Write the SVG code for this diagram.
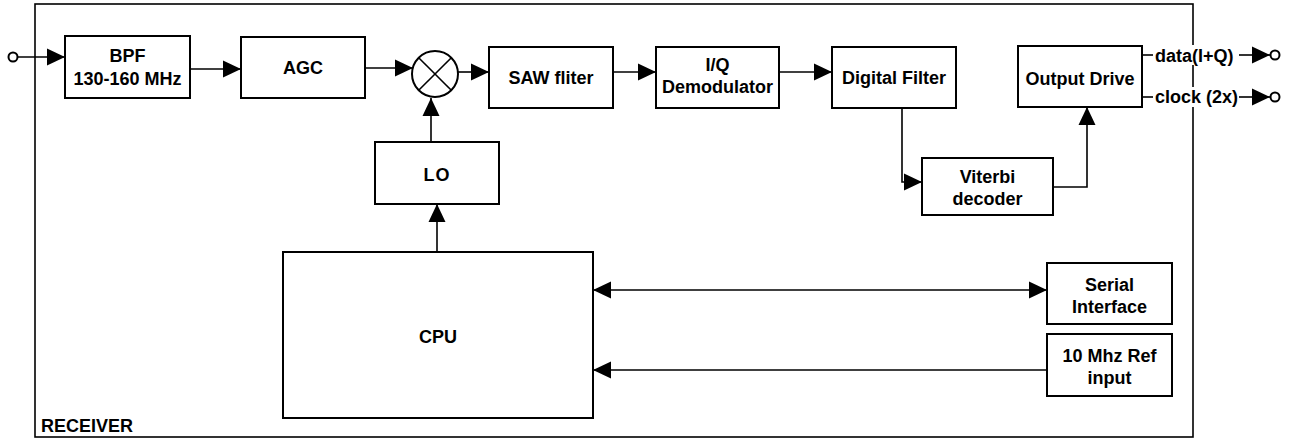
<svg xmlns="http://www.w3.org/2000/svg" width="1291" height="438" viewBox="0 0 1291 438">
  <style>
    .box { fill: #fff; stroke: #000; stroke-width: 2; }
    .wire { fill: none; stroke: #000; stroke-width: 1.6; }
    .lbl { font-family: "Liberation Sans", Arial, sans-serif; font-weight: bold; font-size: 18px; fill: #000; }
    .mid { text-anchor: middle; }
    .port { fill: #fff; stroke: #000; stroke-width: 2; }
  </style>
  <defs>
    <marker id="ah" markerWidth="18" markerHeight="18" refX="18" refY="9" orient="auto-start-reverse" markerUnits="userSpaceOnUse">
      <path d="M0,0.5 L18,9 L0,17.5 z" fill="#000"/>
    </marker>
  </defs>

  <rect width="1291" height="438" fill="#fff"/>

  <!-- receiver enclosure -->
  <g id="receiver">
    <rect x="35" y="4" width="1158" height="433" fill="none" stroke="#000" stroke-width="1.6"/>
    <text class="lbl" x="41" y="432">RECEIVER</text>
  </g>

  <!-- connectors -->
  <g id="connectors">
    <line class="wire" x1="18" y1="57" x2="65" y2="57" marker-end="url(#ah)"/>
    <line class="wire" x1="190" y1="69" x2="241" y2="69" marker-end="url(#ah)"/>
    <line class="wire" x1="365" y1="68" x2="413" y2="68" marker-end="url(#ah)"/>
    <line class="wire" x1="458" y1="72" x2="489" y2="72" marker-end="url(#ah)"/>
    <line class="wire" x1="613" y1="72" x2="656" y2="72" marker-end="url(#ah)"/>
    <line class="wire" x1="779" y1="72" x2="832" y2="72" marker-end="url(#ah)"/>
    <line class="wire" x1="431" y1="142" x2="431" y2="98" marker-end="url(#ah)"/>
    <line class="wire" x1="437" y1="252" x2="437" y2="204" marker-end="url(#ah)"/>
    <polyline class="wire" points="902,108 902,182 922,182" marker-end="url(#ah)"/>
    <polyline class="wire" points="1053,187 1087,187 1087,107" marker-end="url(#ah)"/>
    <line class="wire" x1="593" y1="290" x2="1047" y2="290" marker-start="url(#ah)" marker-end="url(#ah)"/>
    <line class="wire" x1="1047" y1="370" x2="593" y2="370" marker-end="url(#ah)"/>
    <!-- output ports -->
    <rect x="1150" y="45" width="92" height="20" fill="#fff"/>
    <rect x="1150" y="87" width="92" height="20" fill="#fff"/>
    <line class="wire" x1="1142" y1="55" x2="1153" y2="55"/>
    <line class="wire" x1="1239" y1="55" x2="1270" y2="55" marker-end="url(#ah)"/>
    <line class="wire" x1="1142" y1="97" x2="1153" y2="97"/>
    <line class="wire" x1="1239" y1="97" x2="1270" y2="97" marker-end="url(#ah)"/>
    <text class="lbl" x="1155" y="62">data(I+Q)</text>
    <text class="lbl" x="1155" y="103">clock (2x)</text>
    <circle class="port" cx="1275" cy="55" r="4.5"/>
    <circle class="port" cx="1275" cy="97" r="4.5"/>
    <circle class="port" cx="13" cy="57" r="4.5"/>
  </g>

  <g id="bpf">
    <rect class="box" x="65" y="36" width="125" height="62"/>
    <text class="lbl mid" x="127.5" y="62">BPF</text>
    <text class="lbl mid" x="127.5" y="85">130-160 MHz</text>
  </g>

  <g id="agc">
    <rect class="box" x="241" y="37" width="124" height="61"/>
    <text class="lbl mid" x="303" y="74">AGC</text>
  </g>

  <g id="mixer">
    <circle cx="435" cy="74" r="23" fill="#fff" stroke="#000" stroke-width="2"/>
    <line x1="418.7" y1="57.7" x2="451.3" y2="90.3" stroke="#000" stroke-width="1.6"/>
    <line x1="451.3" y1="57.7" x2="418.7" y2="90.3" stroke="#000" stroke-width="1.6"/>
  </g>

  <g id="saw">
    <rect class="box" x="489" y="47" width="124" height="61"/>
    <text class="lbl mid" x="551" y="84">SAW fliter</text>
  </g>

  <g id="iq">
    <rect class="box" x="656" y="47" width="123" height="61"/>
    <text class="lbl mid" x="717.5" y="71">I/Q</text>
    <text class="lbl mid" x="717.5" y="93">Demodulator</text>
  </g>

  <g id="digital-filter">
    <rect class="box" x="832" y="47" width="124" height="61"/>
    <text class="lbl mid" x="894" y="84">Digital Filter</text>
  </g>

  <g id="output-drive">
    <rect class="box" x="1018" y="46" width="124" height="61"/>
    <text class="lbl mid" x="1080" y="85">Output Drive</text>
  </g>

  <g id="viterbi">
    <rect class="box" x="922" y="158" width="131" height="57"/>
    <text class="lbl mid" x="987.5" y="183">Viterbi</text>
    <text class="lbl mid" x="987.5" y="205">decoder</text>
  </g>

  <g id="lo">
    <rect class="box" x="375" y="142" width="124" height="62"/>
    <text class="lbl mid" x="437" y="181" letter-spacing="1">LO</text>
  </g>

  <g id="cpu">
    <rect class="box" x="283" y="252" width="310" height="166"/>
    <text class="lbl mid" x="438" y="343">CPU</text>
  </g>

  <g id="serial">
    <rect class="box" x="1047" y="263" width="125" height="61"/>
    <text class="lbl mid" x="1109.5" y="291">Serial</text>
    <text class="lbl mid" x="1109.5" y="313">Interface</text>
  </g>

  <g id="ref-input">
    <rect class="box" x="1047" y="334" width="125" height="62"/>
    <text class="lbl mid" x="1109.5" y="362">10 Mhz Ref</text>
    <text class="lbl mid" x="1109.5" y="384">input</text>
  </g>
</svg>
